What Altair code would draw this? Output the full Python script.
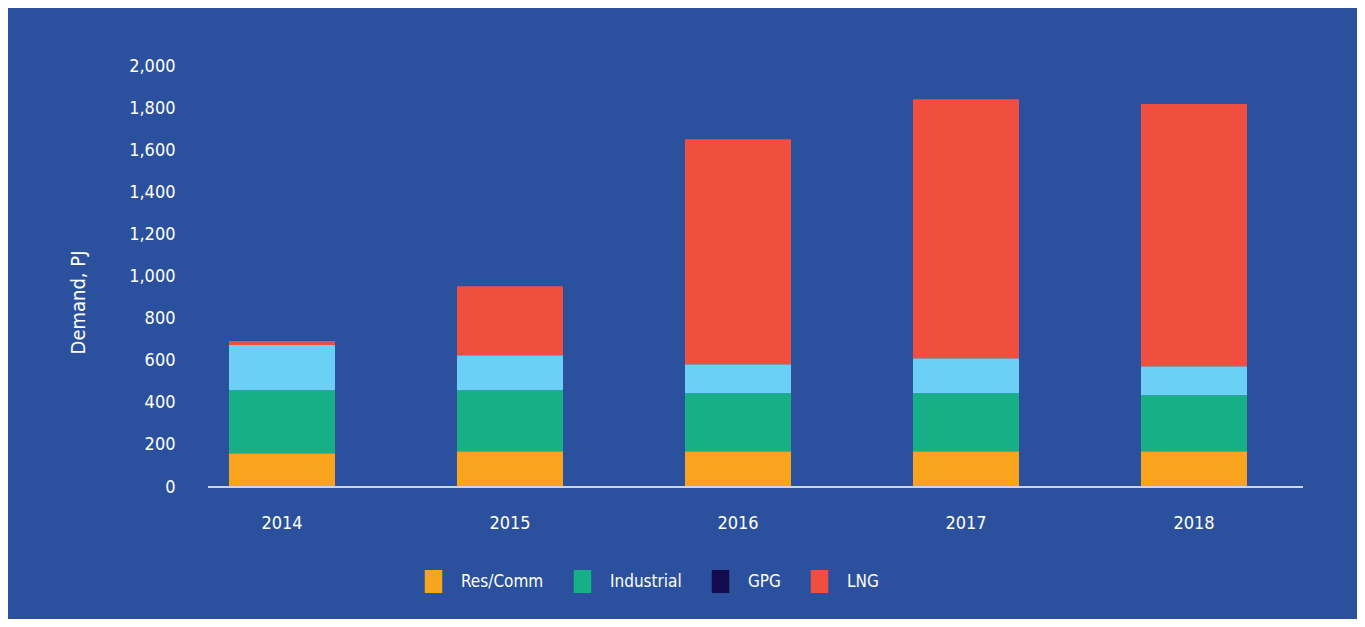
import altair as alt
import pandas as pd

years = ["2014", "2015", "2016", "2017", "2018"]
series = ["Res/Comm", "Industrial", "GPG", "LNG"]
res_comm = [160, 170, 170, 170, 170]
industrial = [300, 290, 275, 275, 266]
gpg = [214, 166, 138, 167, 138]
lng = [19, 328, 1069, 1230, 1245]
y_ticks = [0, 200, 400, 600, 800, 1000, 1200, 1400, 1600, 1800, 2000]

legend_colors = ["#F8A51D", "#17AF85", "#140A4E", "#F04F40"]
gpg_bar_color = "#6CCFF6"
bg = "#2B519E"
FONT = "DejaVu Sans Condensed, Liberation Sans Narrow, sans-serif"

rows = []
for i, y in enumerate(years):
    for k, (name, vals) in enumerate(zip(series, [res_comm, industrial, gpg, lng])):
        rows.append({"year": y, "series": name, "value": vals[i], "ord": k})
df = pd.DataFrame(rows)

bars = alt.Chart(df).mark_bar(strokeWidth=0).encode(
    x=alt.X("year:N", sort=years,
            scale=alt.Scale(paddingInner=0.535, paddingOuter=0.2675),
            axis=alt.Axis(title=None, domain=False, ticks=False, labelAngle=0,
                          labelPadding=27, labelFontSize=18, labelColor="white",
                          labelFont=FONT)),
    y=alt.Y("value:Q", stack="zero",
            scale=alt.Scale(domain=[0, 2000], nice=False),
            axis=alt.Axis(title="Demand, PJ", values=y_ticks, format=",d",
                          grid=False, domain=False, ticks=False,
                          labelPadding=0, offset=-7,
                          labelFontSize=18, labelColor="white", labelFont=FONT,
                          titleFont=FONT, titleFontSize=20, titleFontWeight="normal",
                          titleColor="white", titleX=-97, titleY=236,
                          titleAlign="center", titleBaseline="middle", titleAngle=270)),
    color=alt.condition(
        alt.datum.series == "GPG",
        alt.value(gpg_bar_color),
        alt.Color("series:N",
                  scale=alt.Scale(domain=series, range=legend_colors),
                  legend=alt.Legend(title=None, orient="none", direction="horizontal",
                                    legendX=254, legendY=504, padding=0,
                                    symbolType="M-0.76,-1H0.76V1H-0.76Z",
                                    symbolSize=529, symbolStrokeWidth=0,
                                    symbolOpacity=1,
                                    labelFont=FONT, labelFontSize=17,
                                    labelColor="white", labelOffset=16,
                                    columnPadding=27, labelLimit=300)),
    ),
    order=alt.Order("ord:Q", sort="ascending"),
)

axis_line = alt.Chart(pd.DataFrame({"z": [0]})).mark_rule(
    color="#CDD5EA", strokeWidth=2
).encode(
    y=alt.datum(0),
    x=alt.value(40),
    x2=alt.value(1135),
)

chart = alt.layer(bars, axis_line).properties(
    width=1140,
    height=421,
    autosize=alt.AutoSizeParams(type="none"),
    padding={"left": 160, "top": 58, "right": 49, "bottom": 132},
    background=bg,
).configure_view(stroke=None)

chart.save("out.html", embed_options={"renderer": "svg", "actions": False})
